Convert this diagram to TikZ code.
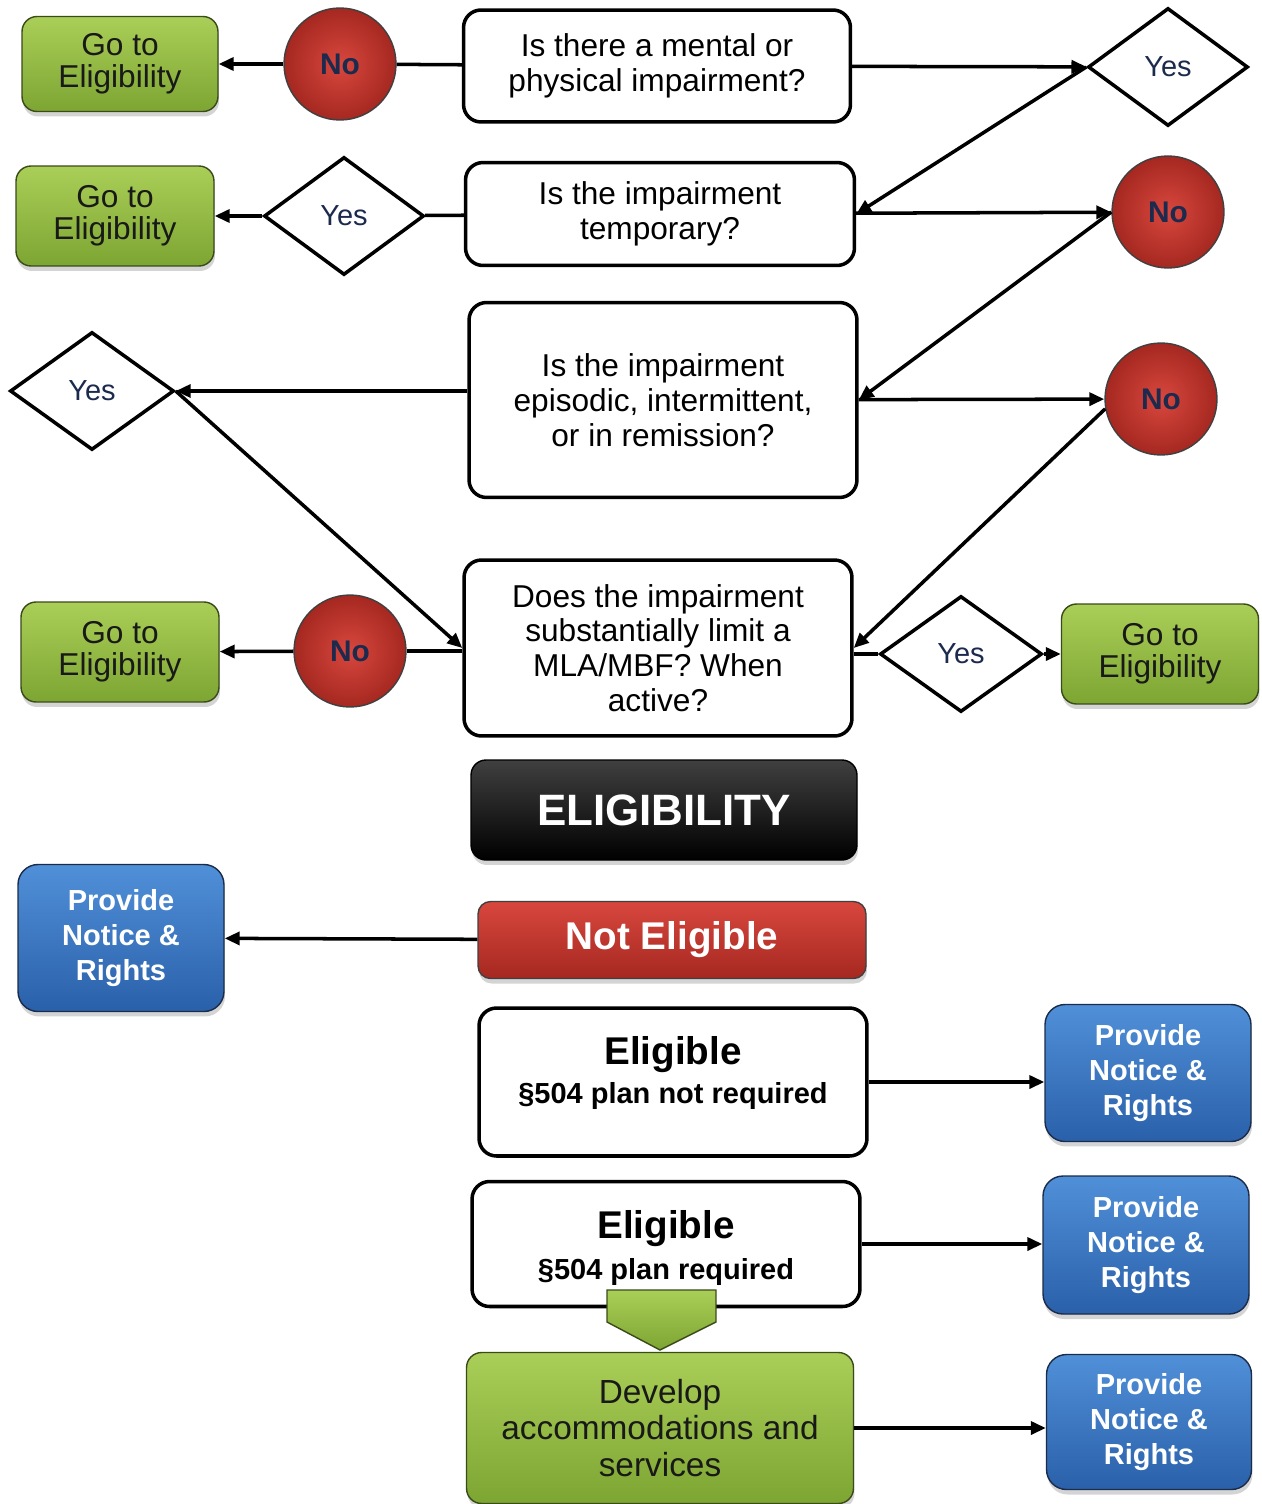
\documentclass[tikz,border=0pt]{standalone}
\usepackage{fontspec}
\setmainfont{Liberation Sans}
\usetikzlibrary{shapes.geometric,arrows.meta,shadows}
\definecolor{grnT}{HTML}{AACF58}
\definecolor{grnB}{HTML}{7DA532}
\definecolor{grnD}{HTML}{3A4A1A}
\definecolor{bluT}{HTML}{5090D8}
\definecolor{bluB}{HTML}{2A60AA}
\definecolor{bluD}{HTML}{1A2C4A}
\definecolor{redT}{HTML}{D8473E}
\definecolor{redB}{HTML}{A52820}
\definecolor{navy}{HTML}{1C2A4E}
\begin{document}
\begin{tikzpicture}[x=0.02cm,y=-0.02cm,
 shd/.style={drop shadow={shadow xshift=0.02cm,shadow yshift=-0.1cm,opacity=0.28,fill=black!60}},
 qbox/.style={draw=black,line width=2pt,rounded corners=0.35cm,fill=white,align=center,
   font=\fontsize{18}{19.8}\selectfont,inner sep=0pt},
 gobox/.style={draw=grnD,line width=0.8pt,rounded corners=0.3cm,top color=grnT,bottom color=grnB,shd,
   align=center,font=\fontsize{18}{18.2}\selectfont,text=black!90,inner sep=0pt},
 pbox/.style={draw=bluD,line width=0.8pt,rounded corners=0.4cm,top color=bluT,bottom color=bluB,shd,
   align=center,font=\fontsize{16.5}{19.8}\selectfont\bfseries,text=white,inner sep=0pt},
 nocirc/.style={circle,draw=black!75,line width=0.8pt,inner color=redT,outer color=redB,
   minimum size=2.24cm,inner sep=0pt,font=\fontsize{17}{17}\selectfont\bfseries,text=navy},
 yesd/.style={diamond,draw=black,line width=2pt,fill=white,inner sep=0pt,
   minimum width=3.2cm,minimum height=2.36cm,font=\fontsize{16.5}{17}\selectfont,text=navy},
 ln/.style={line width=2pt,black},
 arr/.style={ln,-{Triangle[length=0.3cm,width=0.26cm]}}
]
\useasboundingbox (0,0) rectangle (1261,1504);

% row 1
\node[gobox,minimum width=3.92cm,minimum height=1.9cm] (G1) at (120,64) {Go to\\Eligibility};
\node[nocirc] (No1) at (340,64) {No};
\node[qbox,minimum width=7.74cm,minimum height=2.24cm] (Q1) at (657,66) {Is there a mental or\\physical impairment?};
\node[yesd] (Yes1) at (1168,67) {Yes};

% row 2
\node[gobox,minimum width=3.96cm,minimum height=2cm] (G2) at (115,216) {Go to\\Eligibility};
\node[yesd] (Yes2) at (344,216) {Yes};
\node[qbox,minimum width=7.78cm,minimum height=2.06cm] (Q2) at (660,214) {Is the impairment\\temporary?};
\node[nocirc] (No2) at (1168,212) {No};

% row 3
\node[yesd,minimum width=3.28cm] (Yes3) at (92,391) {Yes};
\node[qbox,minimum width=7.76cm,minimum height=3.9cm] (Q3) at (663,400) {Is the impairment\\episodic, intermittent,\\or in remission?};
\node[nocirc] (No3) at (1161,399) {No};

% row 4
\node[gobox,minimum width=3.96cm,minimum height=2cm] (G3) at (120,652) {Go to\\Eligibility};
\node[nocirc] (No4) at (350,651) {No};
\node[qbox,minimum width=7.76cm,minimum height=3.52cm] (Q4) at (658,648) {Does the impairment\\substantially limit a\\MLA/MBF? When\\active?};
\node[yesd,minimum width=3.24cm,minimum height=2.32cm] (Yes4) at (961,654) {Yes};
\node[gobox,minimum width=3.94cm,minimum height=2cm] (G4) at (1160,654) {Go to\\Eligibility};

% eligibility section
\node[draw=black,line width=0.8pt,rounded corners=0.3cm,top color=black!75,bottom color=black,shd,
  minimum width=7.72cm,minimum height=2cm,inner sep=0pt,text=white,
  font=\fontsize{25}{25}\selectfont\bfseries] (EL) at (664,810) {ELIGIBILITY};
\node[draw=black!75,line width=0.8pt,rounded corners=0.25cm,top color=redT,bottom color=redB,shd,
  minimum width=7.76cm,minimum height=1.54cm,inner sep=0pt,text=white,
  font=\fontsize{22}{22}\selectfont\bfseries] (NE) at (672,940) {Not Eligible};
\node[pbox,minimum width=4.12cm,minimum height=2.94cm] (PL) at (121,938) {Provide\\Notice \&\\Rights};

\node[qbox,minimum width=7.76cm,minimum height=2.96cm] (E1) at (673,1082) {};
\node[align=center,inner sep=0pt,font=\fontsize{16.5}{22.5}\selectfont\bfseries] (E1t) at (673,1073)
  {{\fontsize{22}{22.5}\selectfont Eligible}\\§504 plan not required};
\node[pbox,minimum width=4.12cm,minimum height=2.74cm] (P2) at (1148,1073) {Provide\\Notice \&\\Rights};

\node[qbox,minimum width=7.76cm,minimum height=2.5cm] (E2) at (666,1244) {};
\node[align=center,inner sep=0pt,font=\fontsize{16.5}{23.5}\selectfont\bfseries] (E2t) at (666,1248)
  {{\fontsize{22}{23.5}\selectfont Eligible}\\§504 plan required};
\node[pbox,minimum width=4.12cm,minimum height=2.76cm] (P3) at (1146,1245) {Provide\\Notice \&\\Rights};

\node[gobox,minimum width=7.74cm,minimum height=3.02cm,font=\fontsize{19}{20.7}\selectfont] (Dev) at (660,1428)
  {Develop\\accommodations and\\services};
\node[pbox,minimum width=4.10cm,minimum height=2.70cm] (P4) at (1149,1422) {Provide\\Notice \&\\Rights};

% chevron
\draw[draw=grnD,line width=0.8pt,top color=grnT,bottom color=grnB]
  (607,1290) -- (716,1290) -- (716,1322) -- (660,1350) -- (607,1322) -- cycle;

% connectors
\draw[ln] (Q1) -- (No1);
\draw[arr] (No1) -- (G1);
\draw[arr] (Q1) -- (Yes1);
\draw[arr] (Yes1.west) -- (Q2.east);
\draw[ln] (Q2) -- (Yes2);
\draw[arr] (Yes2) -- (G2);
\draw[arr] (Q2) -- (No2);
\draw[arr] (No2.west) -- (Q3.east);
\draw[arr] (Q3) -- (No3);
\draw[arr] (Q3.west |- Yes3.east) -- (Yes3.east);
\draw[arr] (Yes3.east) -- (Q4.west);
\draw[arr] (No3.190) -- (Q4.east);
\draw[ln] (Q4.west |- No4.east) -- (No4.east);
\draw[arr] (No4) -- (G3);
\draw[ln] (Q4.east |- Yes4.west) -- (Yes4.west);
\draw[arr] (Yes4) -- (G4);
\draw[arr] (NE) -- (PL);
\draw[arr] (E1.east) -- (E1.east -| P2.west);
\draw[arr] (E2.east) -- (E2.east -| P3.west);
\draw[arr] (Dev.east) -- (Dev.east -| P4.west);
\end{tikzpicture}
\end{document}
